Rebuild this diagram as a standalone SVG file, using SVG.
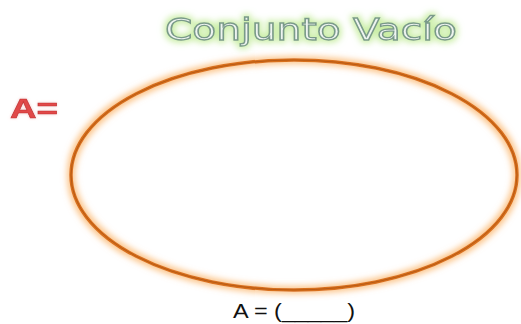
<svg xmlns="http://www.w3.org/2000/svg" width="521" height="324" viewBox="0 0 521 324">
<defs>
<filter id="glowO" x="-10%" y="-20%" width="120%" height="140%">
<feMorphology in="SourceAlpha" operator="dilate" radius="1.5" result="d"/>
<feGaussianBlur in="d" stdDeviation="3" result="b"/>
<feFlood flood-color="#fbb870" flood-opacity="0.85"/>
<feComposite in2="b" operator="in" result="g"/>
<feMerge><feMergeNode in="g"/><feMergeNode in="SourceGraphic"/></feMerge>
</filter>
<filter id="glowG" x="-10%" y="-40%" width="120%" height="180%">
<feMorphology in="SourceAlpha" operator="dilate" radius="2" result="d"/>
<feGaussianBlur in="d" stdDeviation="3" result="b"/>
<feFlood flood-color="#c4ec9c" flood-opacity="0.9"/>
<feComposite in2="b" operator="in" result="g"/>
<feMerge><feMergeNode in="g"/><feMergeNode in="SourceGraphic"/></feMerge>
</filter>
<filter id="glowR" x="-20%" y="-40%" width="140%" height="180%">
<feGaussianBlur in="SourceAlpha" stdDeviation="1.5" result="b"/>
<feFlood flood-color="#f0b0b0" flood-opacity="0.7"/>
<feComposite in2="b" operator="in" result="g"/>
<feMerge><feMergeNode in="g"/><feMergeNode in="SourceGraphic"/></feMerge>
</filter>
</defs>
<style>
.title{font-family:"DejaVu Sans",sans-serif;font-size:31px;fill:#eef4f0;stroke:#7a9a8a;stroke-width:1.3px}
.aeq{font-family:"Liberation Sans",sans-serif;font-weight:bold;font-size:28px;fill:#e04848;stroke:#c03030;stroke-width:0.6px}
.bottom{font-family:"Liberation Sans",sans-serif;font-size:20px;fill:#111}
</style>
<rect width="521" height="324" fill="#ffffff"/>
<g id="title" filter="url(#glowG)">
<text class="title" x="165" y="40" textLength="292" lengthAdjust="spacingAndGlyphs">Conjunto Vacío</text>
</g>
<g id="label-A" filter="url(#glowR)">
<text class="aeq" x="10" y="118" textLength="48" lengthAdjust="spacingAndGlyphs">A=</text>
</g>
<g id="set-A" filter="url(#glowO)">
<ellipse cx="294" cy="175" rx="223" ry="115" fill="none" stroke="#d8701c" stroke-width="3.5"/>
<ellipse cx="294" cy="175" rx="223" ry="115" fill="none" stroke="#b85a14" stroke-width="1"/>
</g>
<g id="formula">
<text class="bottom" x="233" y="318" textLength="122" lengthAdjust="spacingAndGlyphs">A = (_____)</text>
</g>
</svg>
